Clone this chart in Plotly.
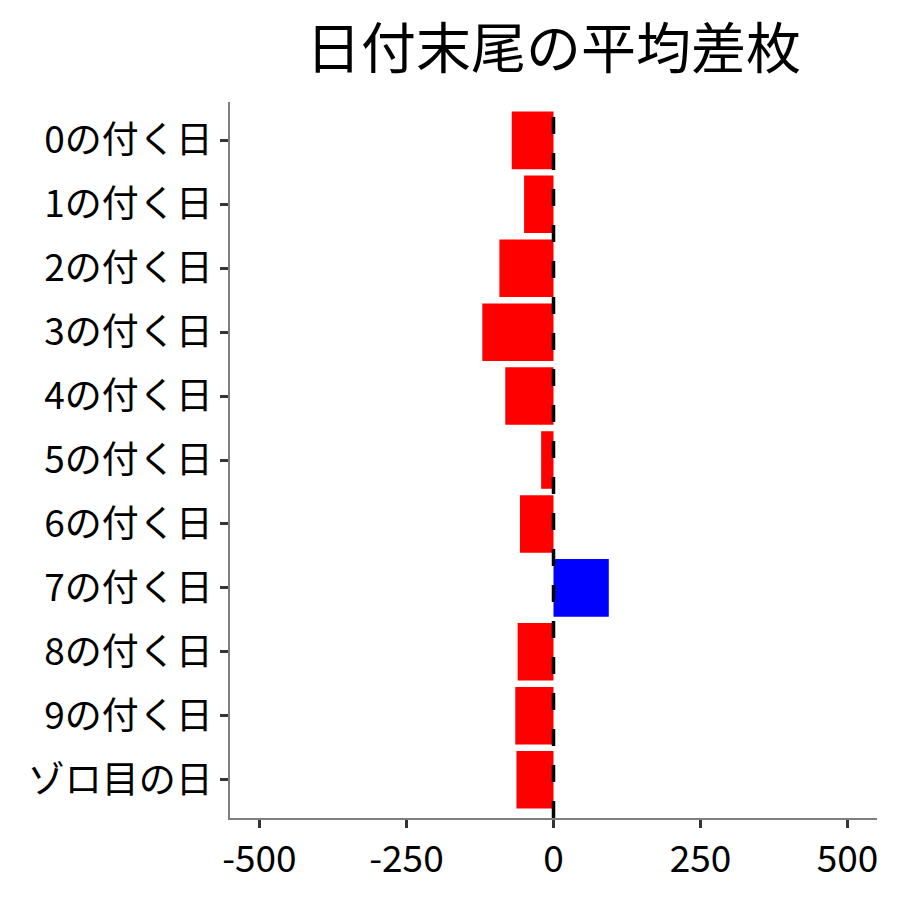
import plotly.graph_objects as go

# 日付末尾ごとの平均差枚
days = ["0の付く日", "1の付く日", "2の付く日", "3の付く日", "4の付く日",
        "5の付く日", "6の付く日", "7の付く日", "8の付く日", "9の付く日", "ゾロ目の日"]
avg_diff = [-71, -50, -92, -121, -82, -21, -57, 94, -61, -65, -63]
x_ticks = [-500, -250, 0, 250, 500]

FONT = "Noto Sans CJK JP"

colors = ["blue" if v > 0 else "red" for v in avg_diff]

fig = go.Figure()
fig.add_trace(go.Bar(
    x=avg_diff,
    y=days,
    orientation="h",
    marker=dict(color=colors, line=dict(width=0)),
    width=0.9,
    showlegend=False,
))

# zero reference line
fig.add_shape(type="line", x0=0, x1=0, xref="x", y0=0, y1=1, yref="paper",
              line=dict(color="black", width=3.5, dash="17px,19px"), layer="above")

fig.update_xaxes(
    range=[-550, 550],
    tickvals=x_ticks,
    ticktext=[str(v) for v in x_ticks],
    showgrid=False, zeroline=False,
    showline=True, linecolor="#7f7f7f", linewidth=1.5,
    ticks="outside", ticklen=8, tickwidth=2.5, tickcolor="#333333",
    tickfont=dict(size=37, color="black", family=FONT),
)
fig.update_yaxes(
    categoryorder="array", categoryarray=days,
    autorange=False,
    range=[10.6, -0.6],
    showgrid=False, zeroline=False,
    showline=True, linecolor="#7f7f7f", linewidth=1.5,
    ticks="outside", ticklen=8, tickwidth=2.5, tickcolor="#333333",
    tickfont=dict(size=37, color="black", family=FONT),
)

fig.update_layout(
    width=900, height=900,
    title=dict(text="日付末尾の平均差枚", xref="paper", x=0.5, xanchor="center",
               y=0.955, yanchor="middle",
               font=dict(size=55, color="black", family=FONT)),
    plot_bgcolor="white", paper_bgcolor="white",
    margin=dict(l=222, r=31, t=94, b=90),
    font=dict(family=FONT),
)

fig.write_html("out.html")
